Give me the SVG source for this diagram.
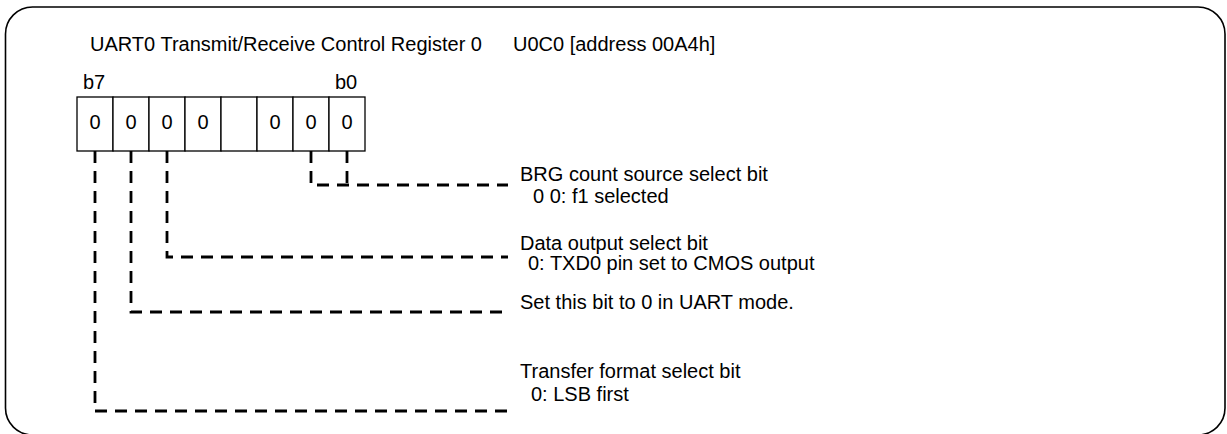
<svg xmlns="http://www.w3.org/2000/svg" width="1227" height="434" viewBox="0 0 1227 434">
<style>
text{font-family:"Liberation Sans",Arial,sans-serif;font-size:20px;fill:#000}
.c{text-anchor:middle}
.cell{fill:#fff;stroke:#000;stroke-width:1.3}
.d{fill:none;stroke:#000;stroke-width:2.8;stroke-dasharray:12 8}
</style>
<rect x="5.5" y="7" width="1219.5" height="428" rx="27" ry="27" fill="#fff" stroke="#000" stroke-width="1.6"/>
<g id="title">
<text x="90" y="50.5">UART0 Transmit/Receive Control Register 0</text>
<text x="513" y="50.5">U0C0 [address 00A4h]</text>
</g>
<g id="register">
<text x="83" y="89">b7</text>
<text x="335" y="89">b0</text>
<rect class="cell" x="77" y="97" width="36" height="54"/>
<rect class="cell" x="113" y="97" width="36" height="54"/>
<rect class="cell" x="149" y="97" width="36" height="54"/>
<rect class="cell" x="185" y="97" width="36" height="54"/>
<rect class="cell" x="221" y="97" width="36" height="54"/>
<rect class="cell" x="257" y="97" width="36" height="54"/>
<rect class="cell" x="293" y="97" width="36" height="54"/>
<rect class="cell" x="329" y="97" width="36" height="54"/>
<text class="c" x="95" y="128.5">0</text>
<text class="c" x="131" y="128.5">0</text>
<text class="c" x="167" y="128.5">0</text>
<text class="c" x="203" y="128.5">0</text>
<text class="c" x="275" y="128.5">0</text>
<text class="c" x="311" y="128.5">0</text>
<text class="c" x="347" y="128.5">0</text>
</g>
<g id="connectors">
<path class="d" d="M311 151 V185 H508"/>
<path class="d" d="M347 151 V185"/>
<path class="d" d="M167 151 V257 H508"/>
<path class="d" d="M131 151 V312 H508"/>
<path class="d" d="M95 151 V411 H508"/>
</g>
<g id="label-brg">
<text x="520" y="180.7">BRG count source select bit</text>
<text x="533" y="202.5">0 0: f1 selected</text>
</g>
<g id="label-data">
<text x="520" y="250">Data output select bit</text>
<text x="528" y="270">0: TXD0 pin set to CMOS output</text>
</g>
<g id="label-uart">
<text x="520" y="308.5">Set this bit to 0 in UART mode.</text>
</g>
<g id="label-transfer">
<text x="520" y="378">Transfer format select bit</text>
<text x="531" y="400.5">0: LSB first</text>
</g>
</svg>
